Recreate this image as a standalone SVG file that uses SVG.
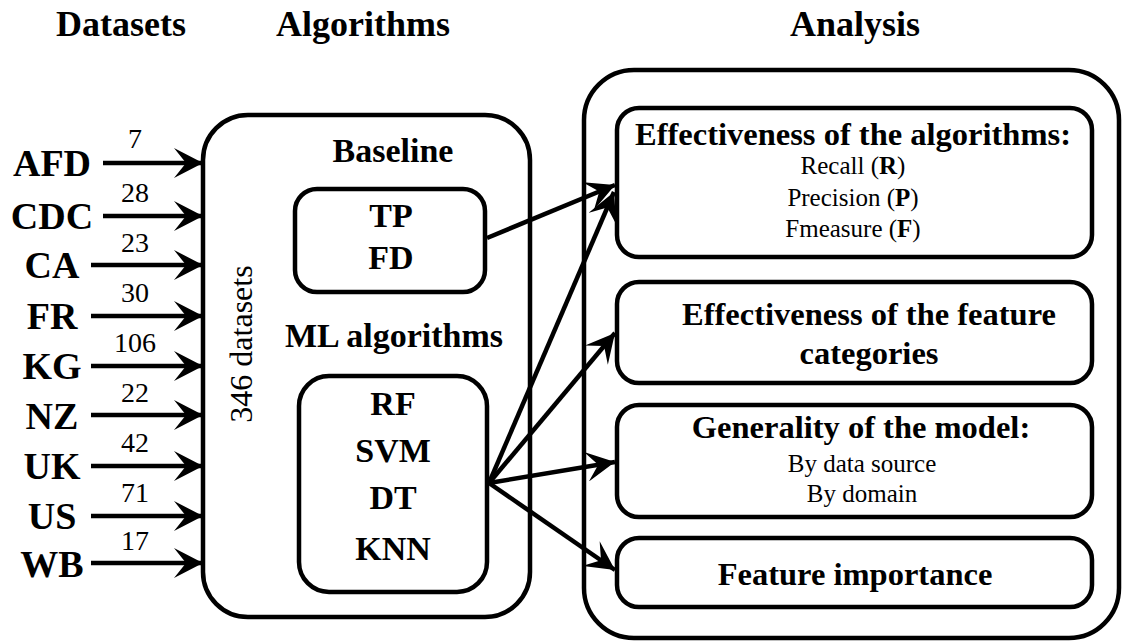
<svg xmlns="http://www.w3.org/2000/svg" width="1123" height="643" viewBox="0 0 1123 643">
<style>
text{fill:#000;text-anchor:middle}
.hdr{font-size:36px;font-weight:bold}
.src{font-size:38px;font-weight:bold}
.num{font-size:28px}
.alg{font-size:34px;font-weight:bold}
.ttl{font-size:32.5px;font-weight:bold}
.sub{font-size:25px}
.box{fill:#fff;stroke:#000;stroke-width:4.5}
.con{fill:none;stroke:#000;stroke-width:4.5}
</style>
<defs>
<marker id="arr" viewBox="0 0 30 30" markerWidth="30" markerHeight="30" markerUnits="userSpaceOnUse" refX="29" refY="15" orient="auto">
<path d="M29,15 L0,0 L12,15 L0,30 Z" fill="#000"/>
</marker>
</defs>
<rect width="1123" height="643" fill="#fff"/>
<g font-family="'Liberation Serif', 'DejaVu Serif', serif">
<g id="headers">
<text class="hdr" x="121" y="36">Datasets</text>
<text class="hdr" x="363" y="36">Algorithms</text>
<text class="hdr" x="855" y="36">Analysis</text>
</g>
<g id="sources">
<text class="src" x="52" y="176">AFD</text>
<text class="src" x="52" y="229">CDC</text>
<text class="src" x="52" y="278">CA</text>
<text class="src" x="52" y="329">FR</text>
<text class="src" x="52" y="379">KG</text>
<text class="src" x="52" y="429">NZ</text>
<text class="src" x="52" y="479">UK</text>
<text class="src" x="52" y="529">US</text>
<text class="src" x="52" y="577">WB</text>
</g>
<g id="algorithms">
<rect class="box" x="203" y="115" width="327" height="502" rx="45"/>
<text class="alg" x="393" y="162">Baseline</text>
<text class="alg" x="394" y="347">ML algorithms</text>
<text transform="translate(252,344) rotate(-90)" style="font-size:32px">346 datasets</text>
</g>
<g id="baseline">
<rect class="box" x="295" y="189" width="190" height="103" rx="22"/>
<text class="alg" x="391" y="227">TP</text>
<text class="alg" x="391" y="269">FD</text>
</g>
<g id="ml">
<rect class="box" x="299" y="376" width="188" height="216" rx="30"/>
<text class="alg" x="393" y="415">RF</text>
<text class="alg" x="393" y="462">SVM</text>
<text class="alg" x="393" y="509">DT</text>
<text class="alg" x="393" y="560">KNN</text>
</g>
<g id="analysis">
<rect class="box" x="584" y="70" width="535" height="568" rx="50"/>
</g>
<g id="eff-alg">
<rect class="box" x="617" y="108" width="475" height="149" rx="22"/>
<text class="ttl" x="853" y="145">Effectiveness of the algorithms:</text>
<text class="sub" x="853" y="174">Recall (<tspan font-weight="bold">R</tspan>)</text>
<text class="sub" x="853" y="206">Precision (<tspan font-weight="bold">P</tspan>)</text>
<text class="sub" x="853" y="237">Fmeasure (<tspan font-weight="bold">F</tspan>)</text>
</g>
<g id="eff-feat">
<rect class="box" x="617" y="282" width="475" height="101" rx="22"/>
<text class="ttl" x="869" y="325">Effectiveness of the feature</text>
<text class="ttl" x="869" y="364">categories</text>
</g>
<g id="generality">
<rect class="box" x="617" y="405" width="475" height="112" rx="22"/>
<text class="ttl" x="861" y="438">Generality of the model:</text>
<text class="sub" x="862" y="472">By data source</text>
<text class="sub" x="862" y="502">By domain</text>
</g>
<g id="importance">
<rect class="box" x="617" y="538" width="475" height="69" rx="22"/>
<text class="ttl" x="855" y="585">Feature importance</text>
</g>
<g id="connectors">
<line class="con" x1="103" y1="163" x2="203" y2="163" marker-end="url(#arr)"/>
<line class="con" x1="103" y1="216" x2="203" y2="216" marker-end="url(#arr)"/>
<line class="con" x1="91" y1="265" x2="203" y2="265" marker-end="url(#arr)"/>
<line class="con" x1="91" y1="316" x2="203" y2="316" marker-end="url(#arr)"/>
<line class="con" x1="91" y1="366" x2="203" y2="366" marker-end="url(#arr)"/>
<line class="con" x1="91" y1="415" x2="203" y2="415" marker-end="url(#arr)"/>
<line class="con" x1="91" y1="466" x2="203" y2="466" marker-end="url(#arr)"/>
<line class="con" x1="91" y1="516" x2="203" y2="516" marker-end="url(#arr)"/>
<line class="con" x1="91" y1="563" x2="203" y2="563" marker-end="url(#arr)"/>
<text class="num" x="135" y="148">7</text>
<text class="num" x="135" y="202">28</text>
<text class="num" x="135" y="252">23</text>
<text class="num" x="135" y="302">30</text>
<text class="num" x="135" y="352">106</text>
<text class="num" x="135" y="402">22</text>
<text class="num" x="135" y="452">42</text>
<text class="num" x="135" y="502">71</text>
<text class="num" x="135" y="550">17</text>
<line class="con" x1="487" y1="238" x2="615" y2="185" marker-end="url(#arr)"/>
<line class="con" x1="489" y1="483" x2="614" y2="192" marker-end="url(#arr)"/>
<line class="con" x1="489" y1="483" x2="615" y2="333" marker-end="url(#arr)"/>
<line class="con" x1="489" y1="483" x2="615" y2="462" marker-end="url(#arr)"/>
<line class="con" x1="489" y1="483" x2="615" y2="570" marker-end="url(#arr)"/>
</g>
</g>
</svg>
